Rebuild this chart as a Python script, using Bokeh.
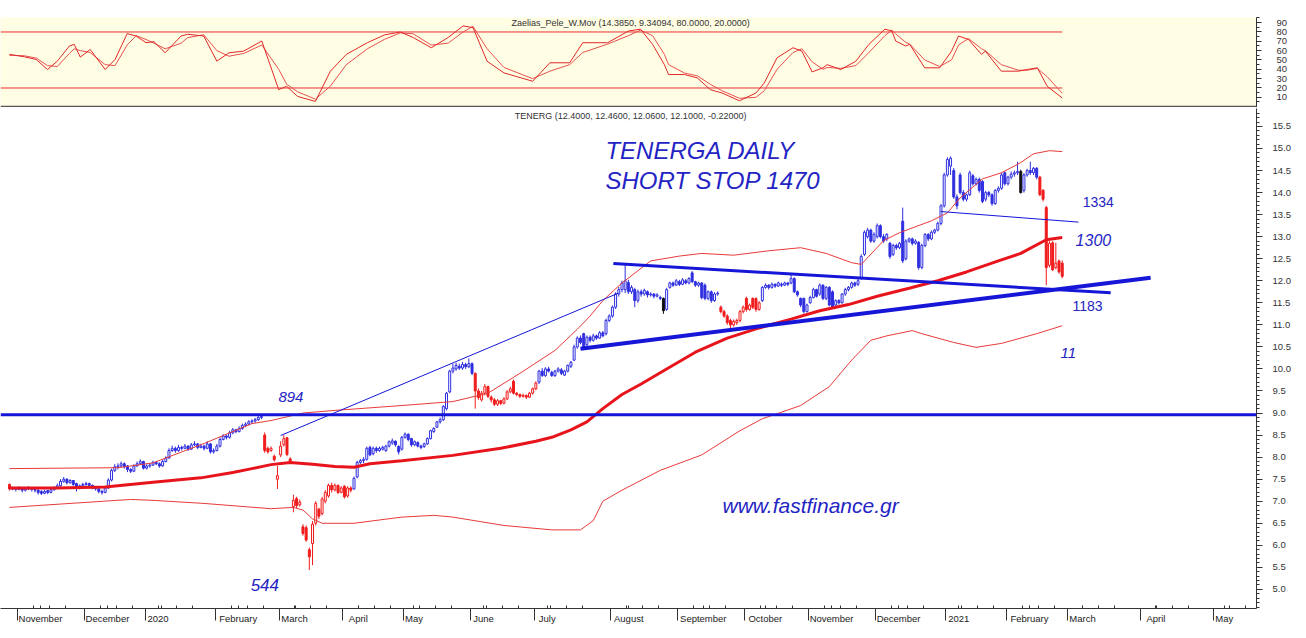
from bokeh.plotting import figure
from bokeh.layouts import column
from bokeh.models import ColumnDataSource, FixedTicker, Span, Range1d, PrintfTickFormatter
from bokeh.core.properties import value
from bokeh.embed import file_html
from bokeh.resources import INLINE

# ---------------- data (trading-day index 0 = late Oct 2019) ----------------
opens = [
7.38,7.28,7.30,7.27,7.30,7.25,7.28,7.30,7.27,7.25,
7.22,7.18,7.24,7.20,7.26,7.30,7.35,7.45,7.50,7.42,
7.47,7.40,7.30,7.35,7.38,7.40,7.36,7.30,7.28,7.22,
7.20,7.30,7.48,7.70,7.78,7.80,7.85,7.80,7.72,7.68,
7.80,7.85,7.90,7.75,7.80,7.82,7.88,7.85,7.80,7.90,
7.98,8.15,8.20,8.15,8.22,8.20,8.25,8.18,8.28,8.30,
8.22,8.25,8.20,8.30,8.12,8.15,8.25,8.40,8.48,8.45,
8.55,8.62,8.58,8.65,8.72,8.75,8.80,8.82,8.85,8.90,
8.50,8.20,8.15,8.02,7.50,8.05,8.28,8.44,7.96,6.88,
7.06,6.92,6.42,6.40,5.90,6.04,6.50,6.82,6.72,7.00,
7.12,7.36,7.26,7.36,7.20,7.34,7.12,7.30,7.28,7.55,
7.88,7.92,7.95,8.22,8.08,8.20,8.15,8.18,8.15,8.25,
8.32,8.36,8.24,8.18,8.45,8.52,8.42,8.28,8.33,8.25,
8.24,8.30,8.42,8.58,8.68,8.80,8.85,9.10,9.48,9.95,
10.00,10.06,10.02,10.10,10.05,10.12,9.90,9.50,9.30,9.45,
9.60,9.36,9.30,9.20,9.28,9.22,9.32,9.48,9.72,9.45,
9.42,9.38,9.40,9.36,9.45,9.55,9.70,9.95,9.85,10.00,
9.92,9.85,9.95,9.98,9.86,9.95,10.06,10.20,10.50,10.70,
10.80,10.55,10.72,10.65,10.75,10.70,10.82,10.80,11.10,11.20,
11.40,11.70,11.80,11.80,11.96,11.75,11.80,11.55,11.75,11.70,
11.75,11.68,11.70,11.65,11.62,11.60,11.35,11.85,11.95,11.90,
11.98,11.92,12.00,11.95,12.18,11.98,11.90,11.95,11.90,11.60,
11.75,11.55,11.70,11.40,11.30,11.20,11.10,11.00,11.05,11.10,
11.30,11.60,11.35,11.60,11.60,11.35,11.55,11.85,11.90,11.85,
11.92,11.88,11.92,11.90,11.95,11.95,12.05,11.75,11.60,11.60,
11.30,11.50,11.62,11.80,11.70,11.90,11.60,11.85,11.75,11.45,
11.55,11.50,11.70,11.80,11.85,11.95,11.92,12.05,12.60,13.00,
13.15,12.90,13.00,13.25,13.00,12.95,12.85,12.60,12.80,12.75,
13.35,12.50,12.90,12.95,12.85,12.87,12.30,12.80,13.05,12.95,
13.10,13.15,13.30,13.70,14.40,14.60,14.50,13.90,14.40,14.00,
13.85,13.95,14.38,14.20,14.30,14.25,13.85,14.00,13.95,13.75,
14.05,14.10,14.45,14.20,14.35,14.42,14.45,14.48,14.05,14.40,
14.50,14.45,14.55,14.35,14.05,13.66,12.35,12.86,12.30,12.45,
12.40]

highs = [
7.40,7.33,7.32,7.34,7.32,7.31,7.34,7.32,7.29,7.27,
7.25,7.26,7.26,7.30,7.34,7.40,7.50,7.55,7.52,7.50,
7.48,7.42,7.38,7.42,7.44,7.42,7.38,7.33,7.30,7.26,
7.34,7.52,7.74,7.84,7.86,7.90,7.88,7.82,7.75,7.84,
7.90,7.95,7.92,7.84,7.86,7.92,7.90,7.88,7.94,8.02,
8.20,8.26,8.24,8.28,8.26,8.30,8.27,8.32,8.36,8.32,
8.30,8.28,8.36,8.32,8.20,8.30,8.45,8.52,8.50,8.60,
8.66,8.64,8.70,8.76,8.79,8.84,8.86,8.89,8.93,8.94,
8.56,8.24,8.24,8.06,7.80,8.36,8.50,8.46,8.00,7.15,
7.10,7.04,6.48,6.45,5.95,6.55,7.00,6.85,7.10,7.25,
7.40,7.42,7.40,7.38,7.34,7.36,7.34,7.34,7.56,7.92,
7.96,8.00,8.24,8.26,8.24,8.24,8.24,8.26,8.28,8.38,
8.42,8.38,8.27,8.48,8.56,8.54,8.44,8.38,8.36,8.28,
8.33,8.45,8.62,8.68,8.82,8.90,9.18,9.48,9.98,10.12,
10.14,10.12,10.16,10.14,10.24,10.15,9.92,9.56,9.50,9.66,
9.62,9.40,9.34,9.32,9.30,9.36,9.52,9.60,9.76,9.48,
9.44,9.44,9.42,9.48,9.58,9.72,9.98,10.02,10.04,10.05,
9.96,9.98,10.04,10.02,9.98,10.10,10.18,10.55,10.74,10.76,
10.82,10.76,10.76,10.80,10.78,10.86,10.86,11.14,11.24,11.44,
11.74,11.86,12.00,12.39,12.02,11.90,11.84,11.80,11.80,11.82,
11.78,11.74,11.72,11.72,11.66,11.62,11.84,11.98,11.98,12.04,
12.02,12.06,12.04,12.08,12.22,12.00,11.98,11.97,11.94,11.78,
11.78,11.74,11.76,11.44,11.34,11.24,11.14,11.12,11.14,11.34,
11.44,11.64,11.48,11.62,11.62,11.54,11.88,11.94,11.92,11.96,
11.94,11.98,11.96,11.98,11.97,12.17,12.08,11.78,11.62,11.62,
11.48,11.66,11.84,11.82,11.94,11.92,11.88,11.88,11.78,11.58,
11.58,11.72,11.84,11.88,11.98,11.98,12.04,12.60,13.14,13.20,
13.18,13.10,13.30,13.28,13.06,13.08,12.88,12.84,12.84,12.88,
13.66,12.94,12.98,12.98,12.94,12.90,12.84,13.08,13.08,13.14,
13.18,13.34,13.74,14.45,14.80,14.82,14.56,13.96,14.45,14.06,
13.98,14.50,14.42,14.34,14.34,14.28,14.04,14.04,13.98,14.08,
14.14,14.45,14.48,14.38,14.48,14.50,14.70,14.52,14.44,14.54,
14.70,14.58,14.58,14.38,14.08,13.70,12.90,12.90,12.86,12.48,
12.46]

lows = [
7.24,7.25,7.22,7.25,7.20,7.22,7.25,7.22,7.20,7.15,
7.14,7.16,7.16,7.18,7.24,7.28,7.33,7.42,7.38,7.40,
7.35,7.22,7.27,7.32,7.35,7.32,7.27,7.24,7.18,7.15,
7.18,7.28,7.45,7.66,7.72,7.76,7.74,7.66,7.64,7.66,
7.78,7.82,7.72,7.72,7.76,7.80,7.82,7.76,7.78,7.88,
7.96,8.12,8.10,8.12,8.15,8.18,8.14,8.16,8.25,8.18,
8.20,8.15,8.18,8.08,8.08,8.13,8.22,8.38,8.40,8.42,
8.52,8.54,8.56,8.62,8.68,8.72,8.76,8.78,8.82,8.86,
8.10,8.08,8.12,7.90,7.28,8.00,8.24,8.02,7.86,6.75,
6.84,6.88,6.22,6.08,5.44,5.55,6.45,6.60,6.68,6.95,
7.08,7.20,7.22,7.16,7.18,7.06,7.08,7.20,7.26,7.52,
7.84,7.86,7.92,8.02,8.04,8.10,8.12,8.15,8.12,8.22,
8.28,8.24,8.06,8.15,8.42,8.36,8.24,8.25,8.22,8.18,
8.21,8.28,8.40,8.55,8.66,8.76,8.82,9.06,9.45,9.90,
9.96,9.98,9.98,10.00,10.02,9.86,9.10,9.30,9.26,9.40,
9.34,9.24,9.16,9.16,9.18,9.20,9.30,9.45,9.42,9.38,
9.34,9.35,9.32,9.34,9.42,9.52,9.66,9.82,9.82,9.92,
9.82,9.82,9.92,9.86,9.84,9.92,10.02,10.18,10.46,10.56,
10.46,10.52,10.60,10.62,10.66,10.68,10.72,10.76,11.06,11.16,
11.36,11.64,11.74,11.72,11.70,11.70,11.40,11.50,11.64,11.66,
11.62,11.64,11.60,11.62,11.56,11.25,11.32,11.82,11.86,11.88,
11.88,11.90,11.92,11.92,11.95,11.86,11.86,11.58,11.56,11.56,
11.50,11.52,11.66,11.26,11.16,11.00,10.92,10.96,11.00,11.06,
11.26,11.30,11.32,11.36,11.30,11.32,11.52,11.82,11.80,11.82,
11.84,11.86,11.86,11.88,11.88,11.92,11.72,11.64,11.40,11.26,
11.28,11.48,11.60,11.62,11.66,11.56,11.56,11.42,11.36,11.42,
11.46,11.48,11.66,11.76,11.82,11.86,11.88,12.02,12.56,12.96,
12.86,12.86,12.96,12.96,12.86,12.90,12.50,12.56,12.70,12.72,
12.40,12.46,12.86,12.80,12.82,12.25,12.26,12.76,12.90,12.92,
13.06,13.12,13.26,13.66,14.36,14.40,13.86,13.62,13.96,13.80,
13.80,13.92,14.16,14.16,14.00,13.76,13.80,13.90,13.70,13.72,
14.00,14.06,14.16,14.16,14.30,14.36,14.40,13.98,14.00,14.36,
14.40,14.40,14.30,13.92,13.80,11.90,12.30,12.22,12.26,12.16,
12.06]

closes = [
7.28,7.30,7.27,7.30,7.25,7.28,7.30,7.27,7.25,7.20,
7.18,7.22,7.20,7.26,7.30,7.35,7.45,7.50,7.42,7.47,
7.38,7.30,7.35,7.38,7.40,7.36,7.30,7.28,7.22,7.20,
7.30,7.48,7.70,7.78,7.80,7.85,7.78,7.72,7.68,7.80,
7.85,7.90,7.75,7.80,7.82,7.88,7.85,7.80,7.90,7.98,
8.15,8.20,8.15,8.22,8.20,8.25,8.18,8.28,8.30,8.22,
8.25,8.20,8.30,8.12,8.15,8.25,8.40,8.48,8.45,8.55,
8.62,8.58,8.65,8.72,8.75,8.80,8.82,8.85,8.90,8.92,
8.15,8.12,8.20,7.94,7.58,8.25,8.42,8.06,7.90,7.02,
6.90,6.98,6.27,6.12,5.74,6.48,6.95,6.66,7.05,7.20,
7.36,7.26,7.36,7.20,7.30,7.10,7.30,7.25,7.52,7.88,
7.92,7.95,8.20,8.05,8.20,8.15,8.20,8.22,8.25,8.35,
8.37,8.28,8.12,8.45,8.52,8.40,8.28,8.35,8.25,8.22,
8.30,8.42,8.60,8.65,8.80,8.85,9.15,9.45,9.95,10.02,
10.08,10.02,10.10,10.05,10.12,9.90,9.50,9.35,9.45,9.60,
9.38,9.30,9.20,9.28,9.22,9.32,9.48,9.55,9.45,9.42,
9.38,9.40,9.36,9.45,9.55,9.68,9.95,9.85,10.00,9.95,
9.85,9.95,10.00,9.90,9.95,10.08,10.15,10.50,10.70,10.60,
10.50,10.72,10.65,10.75,10.70,10.82,10.75,11.10,11.20,11.40,
11.70,11.80,11.95,12.00,11.75,11.85,11.55,11.75,11.70,11.78,
11.68,11.70,11.65,11.68,11.60,11.32,11.80,11.95,11.90,12.00,
11.92,12.02,11.95,12.05,11.98,11.90,11.95,11.62,11.60,11.75,
11.55,11.70,11.72,11.30,11.20,11.05,11.00,11.08,11.10,11.30,
11.40,11.35,11.45,11.40,11.35,11.50,11.85,11.90,11.85,11.92,
11.88,11.95,11.90,11.95,11.92,12.05,11.75,11.68,11.45,11.30,
11.45,11.62,11.80,11.65,11.90,11.60,11.85,11.45,11.40,11.55,
11.50,11.70,11.80,11.85,11.95,11.90,12.00,12.55,13.10,13.15,
12.90,13.05,13.25,13.00,12.90,13.05,12.55,12.80,12.75,12.85,
12.45,12.90,12.95,12.85,12.90,12.30,12.80,13.05,12.95,13.10,
13.15,13.30,13.70,14.40,14.75,14.78,13.90,13.70,14.00,13.85,
13.95,14.45,14.20,14.30,14.05,13.80,14.00,13.95,13.75,14.05,
14.10,14.40,14.20,14.35,14.42,14.45,14.48,14.00,14.40,14.50,
14.45,14.55,14.35,13.95,13.85,12.30,12.85,12.25,12.40,12.20,
12.10]

# candle colour segments (inclusive index ranges); everything else is blue
red_spans = [(0, 0), (80, 107), (146, 165), (223, 235), (323, 330)]
black_days = [205, 317]

# thick red moving average
ma_idx = [0, 15, 30, 45, 60, 70, 76, 82, 88, 95, 102, 108, 113, 123, 139, 154, 165, 170, 176,
          181, 186, 192, 198, 206, 215, 225, 235, 245, 254, 263, 272, 282, 291, 300, 310, 317, 325, 330]
ma_val = [7.30, 7.30, 7.32, 7.43, 7.53, 7.65, 7.74, 7.83, 7.88, 7.84, 7.79, 7.77, 7.85, 7.92, 8.04,
          8.20, 8.36, 8.45, 8.62, 8.80, 9.10, 9.42, 9.66, 10.0, 10.38, 10.70, 10.93, 11.13, 11.32,
          11.46, 11.65, 11.83, 12.0, 12.2, 12.45, 12.62, 12.93, 12.98]

# thin red bands
up_idx = [0, 34, 45, 61, 76, 82, 92, 102, 123, 139, 150, 160, 171, 178, 182, 186, 192, 201, 210,
          217, 227, 238, 248, 256, 264, 267, 274, 279, 289, 294, 298, 305, 311, 317, 321, 326, 330]
up_val = [7.74, 7.76, 7.87, 8.31, 8.76, 8.83, 9.0, 9.06, 9.17, 9.26, 9.45, 9.9, 10.42, 10.9, 11.2,
          11.55, 11.95, 12.45, 12.56, 12.62, 12.58, 12.68, 12.75, 12.62, 12.41, 12.37, 12.91, 13.09,
          13.36, 13.54, 13.88, 14.31, 14.45, 14.68, 14.88, 14.95, 14.93]
lo_idx = [0, 38, 45, 61, 82, 89, 92, 95, 98, 108, 123, 133, 139, 155, 170, 179, 183, 186, 192, 204,
          217, 229, 236, 248, 257, 264, 270, 275, 283, 286, 296, 303, 311, 322, 330]
lo_val = [6.86, 7.04, 7.02, 6.95, 6.83, 6.86, 6.80, 6.60, 6.50, 6.50, 6.64, 6.68, 6.64, 6.45, 6.35,
          6.35, 6.56, 7.00, 7.25, 7.70, 8.05, 8.60, 8.87, 9.17, 9.60, 10.20, 10.65, 10.75, 10.87,
          10.80, 10.60, 10.49, 10.58, 10.80, 10.98]

# oscillator (Zaelias_Pele_W.Mov)
osc_idx = [0, 4.7, 8.4, 11.9, 15, 18.8, 20.3, 22.2, 25.3, 30, 33.1, 36.9, 39.7, 42.8, 45.3, 48.8,
           53.8, 55.9, 60.9, 65, 68.8, 73.4, 79.1, 84.4, 86.9, 90.3, 95.9, 100.6, 105.6, 112.2,
           117.5, 122.5, 126.6, 132.2, 137.5, 142.2, 145.3, 149.7, 155, 164, 169.4, 175.6, 179.7,
           187.5, 194, 197.8, 201.6, 205.3, 206.6, 211.6, 215.6, 219.7, 223.4, 228.8, 234, 236.6,
           240.6, 245.6, 248.4, 251.6, 255, 256.3, 260.6, 265.3, 269.4, 274.4, 276.6, 277.8, 280.9,
           282.2, 286.9, 291.6, 295.3, 297.5, 300.6, 304.7, 305.9, 310.9, 316.3, 319, 322.2, 325.3, 330]
osc_fast = [56, 53.4, 50.5, 39.8, 48.7, 65, 66.7, 53, 61.3, 39.8, 50.5, 78.2, 75.7, 68.5, 69.6, 57.7,
            75.7, 77.5, 75.7, 48.7, 57.7, 59.5, 70.3, 18.2, 21.8, 11, 5.6, 38, 56, 68.5, 76.8, 80,
            74, 63.1, 74, 86.5, 84.7, 48.7, 36.2, 27.2, 47, 47, 68.5, 68.5, 81, 83, 66.7, 45, 34.4,
            34.4, 30.8, 18.2, 14.6, 6.3, 14.6, 25.4, 52.3, 63.1, 59.5, 37.2, 41.6, 45, 39.8, 48.7,
            66.7, 83, 81, 70.3, 65, 66.7, 41.6, 41.6, 59.5, 75.7, 72, 56, 59.5, 38, 38, 39.8, 41.6,
            21.8, 9.34]
osc_slow = [55, 54.5, 52, 44, 43, 57, 62, 60, 58, 45, 44, 66, 76, 72, 68, 62, 68, 74, 77, 60, 54,
            57, 66, 40, 24, 16, 8, 22, 45, 62, 72, 79, 78, 66, 68, 80, 86, 62, 42, 30, 38, 45, 58,
            67, 76, 82, 76, 56, 45, 36, 33, 24, 17, 9, 10, 17, 40, 58, 62, 48, 40, 42, 41, 44, 58,
            76, 82, 78, 69, 67, 50, 43, 50, 66, 73, 62, 60, 45, 39, 39, 41, 32, 14.385]
osc_levels = [80, 20]

# drawn lines: (x0, y0, x1, y1)
support_level = 8.96
thin_trend = (85.0, 8.49, 190.9, 11.72)
upper_trend = (189.3, 12.39, 345.2, 11.73)
lower_trend = (179.0, 10.46, 357.7, 12.07)
neck_line = (291.9, 13.57, 335.1, 13.33)

# x-axis month labels
month_labels = ["November", "December", "2020", "February", "March", "April", "May", "June",
                "July", "August", "September", "October", "November", "December", "2021",
                "February", "March", "April", "May"]
month_first = [3, 24, 43, 65, 85, 105, 124, 145, 165, 189, 210, 231, 251, 272, 294, 313, 332, 355, 378]

osc_title = "Zaelias_Pele_W.Mov (14.3850, 9.34094, 80.0000, 20.0000)"
main_title = "TENERG (12.4000, 12.4600, 12.0600, 12.1000, -0.22000)"

# ---------------- styling ----------------
BLUE = "#2f2fe0"
RED = "#f01c1c"
BLACK = "#111111"
LINE_BLUE = "#1616d8"
TEXT_BLUE = "#2424c4"
AXIS = "#333333"
FONT = "Liberation Sans"
PX_PER_DAY = 3.19

n = min(len(opens), len(highs), len(lows), len(closes))
cols, fills, tops, bots = [], [], [], []
for i in range(n):
    c = BLUE
    for a, b in red_spans:
        if a <= i <= b:
            c = RED
    if i in black_days:
        c = BLACK
    o, cl = opens[i], closes[i]
    cols.append(c)
    fills.append("white" if cl > o else c)
    t, b = max(o, cl), min(o, cl)
    if t - b < 0.015:
        t = b + 0.015
    tops.append(t)
    bots.append(b)

src = ColumnDataSource(dict(x=list(range(n)), h=highs[:n], l=lows[:n], top=tops, bot=bots,
                            col=cols, fill=fills))

X_RANGE = Range1d(-2.81, 390.9)
FW = 1256

# ---------------- oscillator panel ----------------
po = figure(frame_width=FW, frame_height=90, x_range=X_RANGE, y_range=Range1d(-0.9, 95.5),
            output_backend="svg", toolbar_location=None, x_axis_location=None,
            y_axis_location="right", min_border_left=0, min_border_right=44,
            min_border_top=17, min_border_bottom=0, background_fill_color="#FFFDE4",
            border_fill_color="white", outline_line_color=None)
po.grid.visible = False
ya = po.yaxis[0]
ya.ticker = FixedTicker(ticks=[10 * k for k in range(1, 10)], minor_ticks=[5 * k for k in range(1, 20)])
ya.major_tick_in = 0
ya.major_tick_out = 5
ya.minor_tick_in = 0
ya.minor_tick_out = 3
ya.major_label_standoff = 15
ya.axis_line_color = AXIS
ya.major_tick_line_color = AXIS
ya.minor_tick_line_color = AXIS
ya.major_label_text_font = FONT
ya.major_label_text_font_size = "9.5px"
ya.major_label_text_color = AXIS

for lv in osc_levels:
    po.line([X_RANGE.start, osc_idx[-1]], [lv, lv], line_color="#e83030", line_width=1)
m = min(len(osc_idx), len(osc_fast), len(osc_slow))
po.line(osc_idx[:m], osc_slow[:m], line_color="#e85050", line_width=1)
po.line(osc_idx[:m], osc_fast[:m], line_color="#e02828", line_width=1)
po.text(x=[194.7], y=[89.3], text=[osc_title], text_align="center", text_baseline="middle",
        text_font=value(FONT), text_font_size="9px", text_color="#333333")
po.add_layout(Span(location=-0.2, dimension="width", line_color="#555555", line_width=2))

# ---------------- main price panel ----------------
p = figure(frame_width=FW, frame_height=500, x_range=X_RANGE, y_range=Range1d(4.567, 15.907),
           output_backend="svg", toolbar_location=None, y_axis_location="right",
           min_border_left=0, min_border_right=44, min_border_top=1, min_border_bottom=6,
           background_fill_color="white", border_fill_color="white", outline_line_color=None)
p.grid.visible = False

y = p.yaxis[0]
y.ticker = FixedTicker(ticks=[5.0 + 0.5 * k for k in range(22)],
                       minor_ticks=[round(4.6 + 0.1 * k, 2) for k in range(113)])
y.formatter = PrintfTickFormatter(format="%.1f")
y.major_tick_in = 0
y.major_tick_out = 6
y.minor_tick_in = 0
y.minor_tick_out = 3
y.major_label_standoff = 10
y.axis_line_color = AXIS
y.major_tick_line_color = AXIS
y.minor_tick_line_color = AXIS
y.major_label_text_font = FONT
y.major_label_text_font_size = "9.5px"
y.major_label_text_color = AXIS

# x axis: month bars as minor ticks, labels just right of each bar
bars = [f - 0.5 for f in month_first]
centers, overrides = [], {}
for lab, b in zip(month_labels, bars):
    cpos = round(b + (3 + len(lab) * 5.0 / 2) / PX_PER_DAY, 2)
    centers.append(cpos)
    overrides[cpos] = lab
weekly = []
for k, b in enumerate(bars):
    nxt = bars[k + 1] if k + 1 < len(bars) else 390.5
    for w in (5, 10, 15):
        if b + w < nxt - 1:
            pos = round(b + w + 0.01, 2)
            weekly.append(pos)
            overrides[pos] = ""
x = p.xaxis[0]
x.ticker = FixedTicker(ticks=centers + weekly, minor_ticks=bars)
x.major_label_overrides = overrides
x.major_tick_in = 3
x.major_tick_out = 0
x.minor_tick_in = 0
x.minor_tick_out = 12
x.major_label_standoff = -8
x.axis_line_color = AXIS
x.major_tick_line_color = AXIS
x.minor_tick_line_color = AXIS
x.major_label_text_font = FONT
x.major_label_text_font_size = "9.5px"
x.major_label_text_color = "#222222"

# candles
p.segment(x0="x", y0="h", x1="x", y1="l", line_color="col", line_width=1, source=src)
p.vbar(x="x", width=0.62, top="top", bottom="bot", fill_color="fill", line_color="col",
       line_width=1, source=src)

# bands and moving average
p.line(up_idx, up_val, line_color="#e83a3a", line_width=1)
p.line(lo_idx, lo_val, line_color="#e83a3a", line_width=1)
p.line(ma_idx, ma_val, line_color="#e8141c", line_width=3)

# drawn lines
p.add_layout(Span(location=support_level, dimension="width", line_color=LINE_BLUE, line_width=3))
for ln, w in ((thin_trend, 1), (neck_line, 1), (upper_trend, 3), (lower_trend, 4)):
    p.line([ln[0], ln[2]], [ln[1], ln[3]], line_color=LINE_BLUE, line_width=w)

p.text(x=[194.7], y=[15.73], text=[main_title], text_align="center", text_baseline="middle",
       text_font=value(FONT), text_font_size="9px", text_color="#333333")

# annotations
def ann(xv, yv, txt, size, italic=True):
    p.text(x=[xv], y=[yv], text=[txt], text_align="left", text_baseline="middle",
           text_font=value(FONT), text_font_size=size,
           text_font_style="italic" if italic else "normal", text_color=TEXT_BLUE)

ann(186.8, 14.95, "TENERGA DAILY", "24px")
ann(186.8, 14.27, "SHORT STOP 1470", "24px")
ann(223.5, 6.905, "www.fastfinance.gr", "21px")
ann(84.3, 9.354, "894", "15px")
ann(75.6, 5.10, "544", "17px")
ann(336.4, 13.78, "1334", "14px", italic=False)
ann(334.2, 12.92, "1300", "16px")
ann(333.2, 11.42, "1183", "14px", italic=False)
ann(329.5, 10.37, "11", "15px")

layout = column(po, p)
open("out.html", "w").write(file_html(layout, INLINE))
